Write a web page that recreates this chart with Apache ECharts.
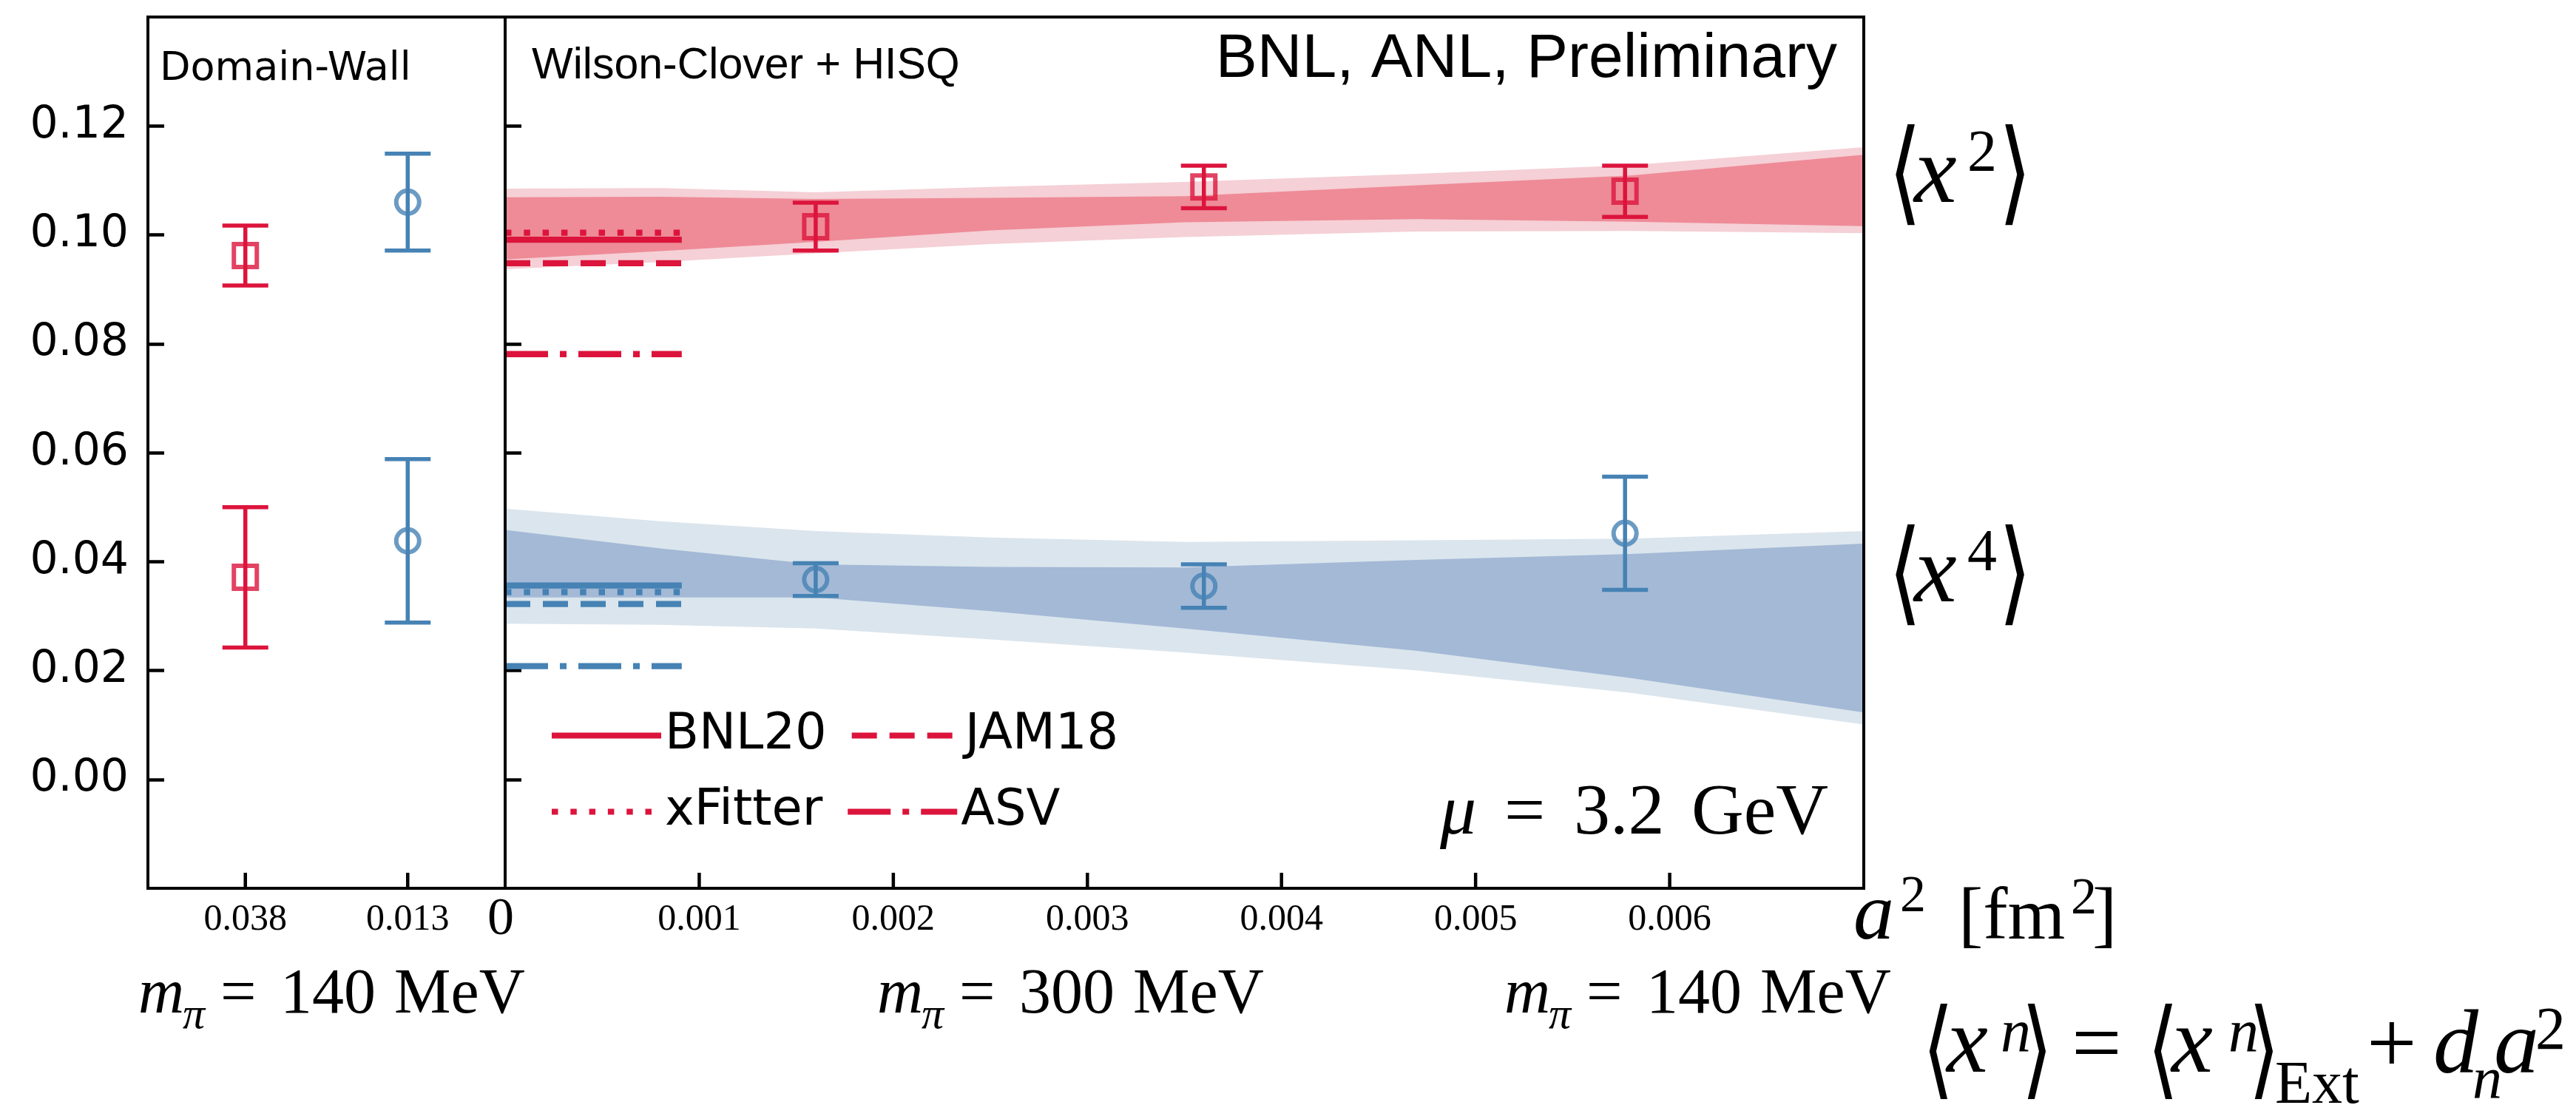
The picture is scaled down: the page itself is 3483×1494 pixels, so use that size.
<!DOCTYPE html>
<html>
<head>
<meta charset="utf-8">
<title>x2 / x4 continuum extrapolation</title>
<script src="https://cdn.jsdelivr.net/npm/echarts@6.0.0/dist/echarts.min.js"></script>
<style>
html, body { margin: 0; padding: 0; background: #fff; }
#main { width: 3483px; height: 1494px; }
</style>
</head>
<body>
<div id="main"></div>
<script>
// ---------------- data ----------------
// Domain-Wall panel: ensembles sit at slot 3 and 8 of a 12-slot axis (spacing only)
var dwCats = ['0.038', '0.013'];
var dwSlot = [3, 8];
var dwSlotCount = 12;
var dwX2 = [0.0962, 0.1060];
var dwX2Err = [0.0055, 0.0089];
var dwX4 = [0.0371, 0.0438];
var dwX4Err = [0.0129, 0.0150];

// Wilson-Clover + HISQ panel, a^2 in fm^2
var wcA2 = [0.00160, 0.00360, 0.00577];
var wcX2 = [0.1015, 0.1088, 0.1080];
var wcX2Err = [0.0044, 0.0039, 0.0047];
var wcX4 = [0.0367, 0.0355, 0.0452];
var wcX4Err = [0.0030, 0.0040, 0.0104];

// fit bands (inner = dark, outer = light)
var bandA2 = [0, 0.0008, 0.0016, 0.0025, 0.0035, 0.0047, 0.0058, 0.0070];
var x2OuterHi = [0.1085, 0.1086, 0.1078, 0.1088, 0.1097, 0.1112, 0.1128, 0.1161];
var x2InnerHi = [0.1069, 0.1070, 0.1066, 0.1068, 0.1071, 0.1091, 0.1109, 0.1147];
var x2InnerLo = [0.0955, 0.0970, 0.0987, 0.1008, 0.1023, 0.1029, 0.1024, 0.1016];
var x2OuterLo = [0.0937, 0.0950, 0.0966, 0.0983, 0.0996, 0.1006, 0.1007, 0.1003];
var x4OuterHi = [0.0497, 0.0474, 0.0456, 0.0444, 0.0436, 0.0439, 0.0442, 0.0456];
var x4InnerHi = [0.0458, 0.0424, 0.0395, 0.0390, 0.0389, 0.0403, 0.0414, 0.0433];
var x4InnerLo = [0.0334, 0.0334, 0.0334, 0.0309, 0.0277, 0.0236, 0.0186, 0.0123];
var x4OuterLo = [0.0286, 0.0284, 0.0277, 0.0257, 0.0233, 0.0200, 0.0159, 0.0101];

// global fits shown at the continuum (short horizontal lines)
var refNames = ['BNL20', 'JAM18', 'xFitter', 'ASV'];
var refX2 = [0.0991, 0.0948, 0.1004, 0.0781];
var refX4 = [0.0356, 0.0322, 0.0344, 0.0208];
var refEnd = 0.00091;

var yMin = -0.02, yMax = 0.14;
var yTicks = [0, 0.02, 0.04, 0.06, 0.08, 0.10, 0.12];
var a2Ticks = [0, 0.001, 0.002, 0.003, 0.004, 0.005, 0.006];

// ---------------- styling ----------------
var RED = '#dc143c';
var BLUE = '#4682b4';
var DV = "'DejaVu Sans', sans-serif";
var HV = "'Liberation Sans', Arial, sans-serif";
var SERIF = "'Liberation Serif', 'Times New Roman', serif";
var dashTypes = ['solid', [34, 17], [8.5, 16.8], [58, 16, 9, 16]];
var FRAME = 4;
var TICK_W = 4.5;

var chart = echarts.init(document.getElementById('main'));

function errorBars(params, api) {
  var x = api.value(0), y = api.value(1), e = api.value(2);
  var top = api.coord([x, y + e]);
  var bot = api.coord([x, y - e]);
  var hw = 31;
  var st = { stroke: api.visual('color'), lineWidth: 5.5, fill: null };
  return {
    type: 'group',
    children: [
      { type: 'line', shape: { x1: top[0], y1: top[1], x2: bot[0], y2: bot[1] }, style: st },
      { type: 'line', shape: { x1: top[0] - hw, y1: top[1], x2: top[0] + hw, y2: top[1] }, style: st },
      { type: 'line', shape: { x1: bot[0] - hw, y1: bot[1], x2: bot[0] + hw, y2: bot[1] }, style: st }
    ]
  };
}

// one filled polygon between lo and hi, built through the axis scales
function band(lo, hi, color) {
  var rows = [];
  for (var i = 0; i < bandA2.length; i++) rows.push([bandA2[i], lo[i], hi[i]]);
  return {
    type: 'custom', xAxisIndex: 1, yAxisIndex: 1, silent: true, z: 1,
    encode: { x: 0, y: [1, 2] }, data: rows,
    renderItem: function (params, api) {
      if (params.dataIndex !== 0) return null;
      var pts = [];
      for (var j = 0; j < rows.length; j++) pts.push(api.coord([rows[j][0], rows[j][2]]));
      for (var k = rows.length - 1; k >= 0; k--) pts.push(api.coord([rows[k][0], rows[k][1]]));
      return { type: 'polygon', shape: { points: pts }, style: { fill: color } };
    }
  };
}

// inward x ticks standing on the bottom frame, placed by the axis scale
function xTicks(axis, values, len) {
  var rows = [];
  for (var i = 0; i < values.length; i++) rows.push([values[i], yMin]);
  return {
    type: 'custom', xAxisIndex: axis, yAxisIndex: axis, silent: true, z: 21,
    encode: { x: 0, y: 1 }, data: rows,
    renderItem: function (params, api) {
      var p = api.coord([api.value(0), api.value(1)]);
      return { type: 'line', shape: { x1: p[0], y1: p[1], x2: p[0], y2: p[1] - len },
        style: { stroke: '#000', lineWidth: TICK_W } };
    }
  };
}

function points(axis, xs, ys, errs, color, symbol) {
  var eb = [], pt = [];
  for (var i = 0; i < xs.length; i++) {
    eb.push([xs[i], ys[i], errs[i]]);
    pt.push([xs[i], ys[i]]);
  }
  return [
    { type: 'custom', xAxisIndex: axis, yAxisIndex: axis, renderItem: errorBars,
      itemStyle: { color: color }, encode: { x: 0, y: 1 }, data: eb, z: 5, silent: true },
    { type: 'scatter', xAxisIndex: axis, yAxisIndex: axis, symbol: symbol, symbolSize: 31,
      itemStyle: { color: 'rgba(0,0,0,0)', borderColor: color, borderWidth: 6 }, data: pt, z: 6, silent: true }
  ];
}

var series = [
  band(x2OuterLo, x2OuterHi, '#f5d0d6'),
  band(x2InnerLo, x2InnerHi, '#ee8b97'),
  band(x4OuterLo, x4OuterHi, '#dbe5ed'),
  band(x4InnerLo, x4InnerHi, '#a3b9d6'),
  xTicks(0, dwSlot, 21),
  xTicks(1, a2Ticks.slice(1), 21)
];

for (var i = 0; i < refNames.length; i++) {
  series.push({ name: refNames[i], type: 'line', xAxisIndex: 1, yAxisIndex: 1, symbol: 'none', silent: true,
    itemStyle: { color: RED }, lineStyle: { color: RED, width: 8.3, type: dashTypes[i], cap: 'butt' },
    data: [[0, refX2[i]], [refEnd, refX2[i]]], z: 3 });
  series.push({ name: refNames[i] + ' x4', type: 'line', xAxisIndex: 1, yAxisIndex: 1, symbol: 'none', silent: true,
    itemStyle: { color: BLUE }, lineStyle: { color: BLUE, width: 8.3, type: dashTypes[i], cap: 'butt' },
    data: [[0, refX4[i]], [refEnd, refX4[i]]], z: 3 });
}

// left panel: red square ensemble and blue circle ensemble
series = series.concat(points(0, [dwSlot[0], dwSlot[0]], [dwX2[0], dwX4[0]], [dwX2Err[0], dwX4Err[0]], RED, 'rect'));
series = series.concat(points(0, [dwSlot[1], dwSlot[1]], [dwX2[1], dwX4[1]], [dwX2Err[1], dwX4Err[1]], BLUE, 'circle'));
// right panel
series = series.concat(points(1, wcA2, wcX2, wcX2Err, RED, 'rect'));
series = series.concat(points(1, wcA2, wcX4, wcX4Err, BLUE, 'circle'));

// text helpers: x = left edge, base = baseline
function tx(x, base, s, size, family, italic, align) {
  return { type: 'text', x: x, y: base - 0.34 * size, silent: true, z: 50,
    style: { text: s, fontSize: size, fontFamily: family, fontStyle: italic ? 'italic' : 'normal',
      fill: '#000', align: align || 'left', verticalAlign: 'middle' } };
}
// angle brackets, stretched a little to the tall math shape
function br(x, cy, s, size) {
  return { type: 'text', x: x, y: cy - 0.06 * size, scaleY: 1.32, silent: true, z: 50,
    style: { text: s, fontSize: size, fontFamily: DV, fontWeight: 200, fill: '#000', align: 'left', verticalAlign: 'middle' } };
}

var texts = [
  tx(216, 112, 'Domain-Wall', 54, DV),
  tx(719, 110, 'Wilson-Clover + HISQ', 59, HV),
  tx(2484, 109, 'BNL, ANL, Preliminary', 84, HV, false, 'right'),
  // <x^2>, <x^4>
  br(2553, 251, '\u27e8', 116), tx(2588, 283, 'x', 130, SERIF, true), tx(2660, 237, '2', 80, SERIF), br(2702, 251, '\u27e9', 116),
  br(2553, 792, '\u27e8', 116), tx(2588, 823, 'x', 130, SERIF, true), tx(2660, 777, '4', 80, SERIF), br(2702, 792, '\u27e9', 116),
  // a^2 [fm^2]
  tx(2506, 1277, 'a', 110, SERIF, true), tx(2569, 1237, '2', 70, SERIF),
  tx(2648, 1277, '[fm', 100, SERIF), tx(2800, 1240, '2', 70, SERIF), tx(2829, 1277, ']', 100, SERIF),
  // mu = 3.2 GeV
  tx(1947, 1135, '\u03bc', 98, SERIF, true), tx(2034, 1135, '=', 98, SERIF),
  tx(2128, 1135, '3.2', 98, SERIF), tx(2287, 1135, 'GeV', 98, SERIF),
  // <x^n> = <x^n>_Ext + d_n a^2
  br(2599, 1436, '\u27e8', 110), tx(2632, 1459, 'x', 126, SERIF, true), tx(2705, 1427, 'n', 82, SERIF, true), br(2733, 1436, '\u27e9', 110),
  tx(2801, 1459, '=', 120, SERIF),
  br(2903, 1436, '\u27e8', 110), tx(2936, 1459, 'x', 126, SERIF, true), tx(3013, 1427, 'n', 82, SERIF, true), br(3040, 1436, '\u27e9', 110),
  tx(3076, 1497, 'Ext', 82, SERIF), tx(3200, 1459, '+', 120, SERIF),
  tx(3290, 1459, 'd', 122, SERIF, true), tx(3343, 1490, 'n', 80, SERIF, true),
  tx(3372, 1459, 'a', 122, SERIF, true), tx(3428, 1424, '2', 82, SERIF)
];
var mpiX = [187, 1186, 2034];
var mpiVal = ['140', '300', '140'];
for (var k = 0; k < mpiX.length; k++) {
  var m0 = mpiX[k];
  texts.push(tx(m0, 1376, 'm', 86, SERIF, true));
  texts.push(tx(m0 + 60, 1395, '\u03c0', 60, SERIF, true));
  texts.push(tx(m0 + 111, 1376, '=', 86, SERIF));
  texts.push(tx(m0 + 192, 1376, mpiVal[k], 86, SERIF));
  texts.push(tx(m0 + 346, 1376, 'MeV', 86, SERIF));
}

var dwAxisCats = [];
for (var s = 0; s < dwSlotCount; s++) dwAxisCats.push('slot' + s);
function isDwSlot(idx) { return dwSlot.indexOf(idx) >= 0; }

var option = {
  animation: false,
  backgroundColor: '#fff',
  grid: [
    { left: 200, top: 23, width: 483, height: 1178, show: true, borderColor: '#000', borderWidth: FRAME,
      backgroundColor: 'transparent', z: 20 },
    { left: 683, top: 23, width: 1837, height: 1178, show: true, borderColor: '#000', borderWidth: FRAME,
      backgroundColor: 'transparent', z: 20 }
  ],
  xAxis: [
    { type: 'category', gridIndex: 0, data: dwAxisCats, boundaryGap: false, position: 'bottom',
      splitLine: { show: false },
      axisLine: { show: true, onZero: false, lineStyle: { color: '#000', width: FRAME } },
      axisTick: { show: false },
      axisLabel: { interval: isDwSlot, margin: 43, verticalAlign: 'middle', color: '#000',
        fontFamily: SERIF, fontSize: 50,
        formatter: function (v, idx) { return dwCats[dwSlot.indexOf(idx)] || ''; } } },
    { type: 'value', gridIndex: 1, position: 'bottom', min: 0, max: 0.007, interval: 0.001,
      splitLine: { show: false },
      axisLine: { show: true, onZero: false, lineStyle: { color: '#000', width: FRAME } },
      axisTick: { show: false },
      axisLabel: { customValues: a2Ticks, margin: 43, verticalAlign: 'middle', color: '#000', fontFamily: SERIF,
        formatter: function (v) { return v === 0 ? '{z|0}' : '{t|' + v.toFixed(3) + '}'; },
        rich: {
          z: { fontSize: 72, fontFamily: SERIF, color: '#000', padding: [0, 12, 0, 0] },
          t: { fontSize: 50, fontFamily: SERIF, color: '#000' }
        } } }
  ],
  yAxis: [
    { type: 'value', gridIndex: 0, min: yMin, max: yMax, splitLine: { show: false },
      axisLine: { show: true, onZero: false, lineStyle: { color: '#000', width: FRAME } },
      axisTick: { show: true, inside: true, length: 22, lineStyle: { color: '#000', width: TICK_W }, customValues: yTicks },
      axisLabel: { customValues: yTicks, margin: 26, color: '#000', fontFamily: DV, fontSize: 60,
        formatter: function (v) { return v.toFixed(2); } } },
    { type: 'value', gridIndex: 1, min: yMin, max: yMax, splitLine: { show: false },
      axisLine: { show: true, onZero: false, lineStyle: { color: '#000', width: FRAME } },
      axisTick: { show: true, inside: true, length: 22, lineStyle: { color: '#000', width: TICK_W }, customValues: yTicks },
      axisLabel: { show: false } }
  ],
  legend: {
    data: refNames, left: 742, top: 958, width: 790, orient: 'horizontal', padding: 0,
    itemWidth: 148, itemHeight: 20, itemGap: 30, selectedMode: false,
    itemStyle: { opacity: 0 }, lineStyle: { width: 8 },
    textStyle: { fontFamily: DV, fontSize: 67, color: '#000', lineHeight: 73 }
  },
  graphic: texts,
  series: series
};

chart.setOption(option);
</script>
</body>
</html>
